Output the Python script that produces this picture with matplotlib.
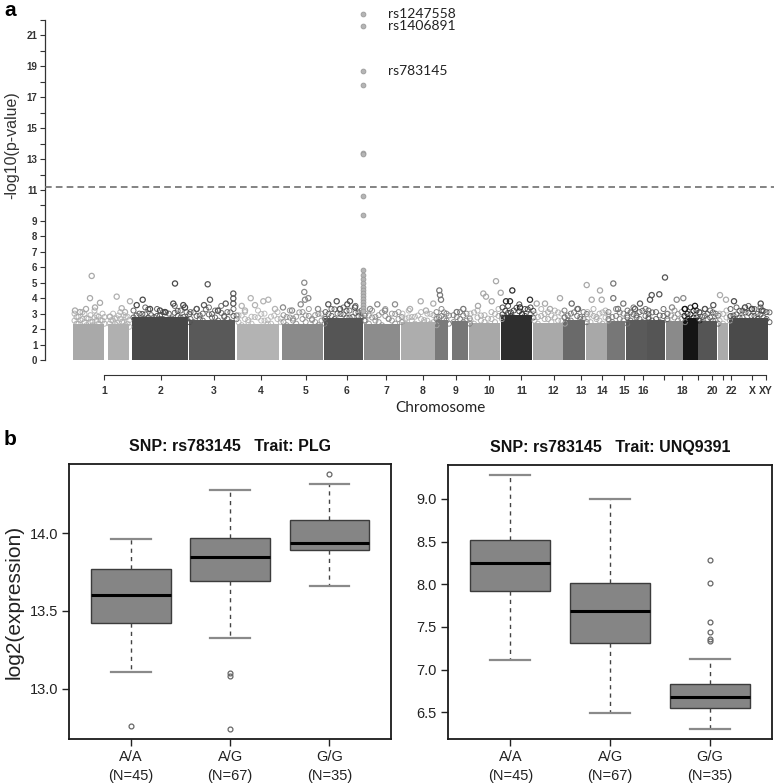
import numpy as np
import matplotlib
matplotlib.use("Agg")
import matplotlib.pyplot as plt

# ---------------- data: Manhattan plot ----------------
chrom_labels = ['1', '2', '3', '4', '5', '6', '7', '8', '9', '10', '11', '12', '13', '14',
                '15', '16', '', '18', '', '20', '', '22', 'X', 'XY']
chrom_ticks = [104.5, 161, 213.8, 260.6, 305.6, 347, 386, 422.7, 456, 489.3, 521.4, 553.6,
               581, 601.8, 623.8, 643, 663.8, 682.2, 698.2, 712, 723.4, 731.3, 752, 766]

block_start = [73, 108, 132, 189, 237, 282, 324, 364, 401, 435, 452, 469, 501, 533, 563, 586,
               607, 626, 647, 666, 683, 698, 718, 729]
block_end = [104, 129, 188, 235, 279, 323, 363, 400, 435, 448, 468, 500, 532, 563, 585, 607,
             625, 647, 665, 683, 698, 717, 728, 768]
block_top = [2.35, 2.3, 2.75, 2.6, 2.35, 2.35, 2.7, 2.35, 2.45, 2.6, 2.5, 2.4, 2.9, 2.4, 2.6,
             2.4, 2.5, 2.6, 2.6, 2.5, 2.7, 2.5, 2.4, 2.7]
# upper edge of the dense point cloud in each block
band_vals = [
    [3.0, 2.8, 3.1, 2.7, 2.9, 3.2, 2.8, 3.0],
    [2.8, 3.0, 2.7, 3.1, 2.9, 2.8],
    [3.2, 3.0, 3.4, 2.9, 3.3, 3.1, 3.0, 3.5, 3.2, 3.1],
    [3.1, 3.3, 3.0, 3.4, 3.2, 3.5, 3.1, 3.3],
    [2.9, 3.1, 2.8, 3.2, 3.0, 2.8, 3.1],
    [2.9, 3.2, 2.8, 3.1, 3.3, 2.9, 3.0],
    [3.1, 3.3, 3.0, 3.4, 3.2, 3.5, 3.2],
    [3.0, 3.2, 2.9, 3.3, 3.0, 3.1],
    [3.0, 3.2, 2.8, 3.1, 3.0, 2.9],
    [3.1, 3.3, 3.0],
    [2.9, 3.1, 3.0],
    [3.0, 3.2, 2.9, 3.1, 3.3],
    [3.4, 3.5, 3.2, 3.6, 3.3, 3.4],
    [3.0, 3.3, 3.1, 3.2, 3.0],
    [3.2, 3.0, 3.3, 3.1],
    [3.1, 3.3, 3.0, 3.2],
    [3.1, 3.3, 3.0],
    [3.2, 3.4, 3.1, 3.3],
    [3.2, 3.1, 3.3],
    [3.0, 3.2, 3.1],
    [3.3, 3.4, 3.2],
    [3.1, 3.3, 3.2, 3.0],
    [3.0, 3.2],
    [3.3, 3.4, 3.2, 3.5, 3.3, 3.4, 3.1],
]
outlier_x = [91.7, 90, 75, 80, 100, 95, 86,
             116.7, 121.7, 110, 130, 125,
             175, 136.7, 142.7, 173.3, 183.3, 160, 150, 165, 185,
             207.7, 204, 210, 233.3, 233.3, 225.7, 233.3, 196.7, 218,
             250.7, 263.3, 268.3, 241.7, 255, 245, 275,
             304.3, 304.3, 305, 300.7, 308.3, 283, 292, 318,
             336.7, 328.3, 347.3, 350, 340, 355,
             377.3, 395, 370, 385,
             420.7, 439.3, 440, 441, 433.3, 410, 426,
             456.7, 463.3,
             483.3, 486, 496, 500.7, 491.7, 478,
             512.3, 506, 510, 520, 530,
             536.7, 545, 560, 550,
             571.7, 578,
             586.7, 600, 591.7, 601.7,
             613.3, 613.3, 623.3, 618,
             640, 651.7, 659.3, 650, 635,
             665, 676.7, 683.3, 685, 672,
             720, 713.3, 726, 734, 760.7, 761.7, 745, 752, 705, 695]
outlier_y = [5.44, 4.0, 3.2, 3.1, 3.7, 3.4, 3.3,
             4.1, 3.35, 2.8, 3.8, 3.1,
             4.95, 3.55, 3.9, 3.65, 3.55, 3.2, 3.3, 3.1, 3.4,
             4.9, 3.55, 3.9, 4.3, 3.98, 3.65, 3.65, 3.3, 3.2,
             4.0, 3.8, 3.9, 3.5, 3.55, 3.2, 3.3,
             5.0, 4.4, 3.9, 3.6, 4.0, 3.4, 3.2, 3.3,
             3.8, 3.6, 3.6, 3.8, 3.3, 3.4,
             3.6, 3.6, 3.3, 3.2,
             3.8, 4.5, 4.2, 3.9, 3.65, 3.3, 3.2,
             3.1, 3.3,
             4.3, 4.1, 5.1, 4.35, 3.8, 3.5,
             4.5, 3.8, 3.8, 3.4, 3.9,
             3.65, 3.65, 4.0, 3.3,
             3.65, 3.3,
             4.85, 4.5, 3.9, 3.9,
             4.95, 4.0, 3.65, 3.3,
             3.65, 4.2, 4.25, 3.9, 3.3,
             5.34, 3.9, 4.0, 3.3, 3.4,
             4.2, 3.55, 3.9, 3.8, 3.65, 3.2, 3.4, 3.3, 3.3, 3.5]
peak_x = 363
peak_vals = [22.4, 21.6, 18.7, 17.8, 13.4, 13.3, 10.6, 9.4, 5.8, 5.5, 5.25, 5.0, 4.75,
             4.55, 4.35, 4.15, 3.95, 3.75, 3.55, 3.35, 3.15]
snp_names = ['rs1247558', 'rs1406891', 'rs783145']
snp_vals = [22.4, 21.6, 18.7]
threshold = 11.2
ytick_vals = list(range(0, 23))
ytick_labels = ['0', '1', '2', '3', '4', '5', '6', '7', '8', '9', '', '11', '', '13', '',
                '15', '', '17', '', '19', '', '21', '']

# ---------------- data: box plots ----------------
genotypes = ['A/A\n(N=45)', 'A/G\n(N=67)', 'G/G\n(N=35)']
plg_q1 = [13.425, 13.69, 13.895]
plg_med = [13.60, 13.85, 13.936]
plg_q3 = [13.768, 13.968, 14.086]
plg_lo = [13.11, 13.325, 13.663]
plg_hi = [13.966, 14.28, 14.32]
plg_fliers = [[12.76], [13.10, 13.08, 12.74], [14.38]]

unq_q1 = [7.925, 7.31, 6.554]
unq_med = [8.255, 7.685, 6.675]
unq_q3 = [8.52, 8.02, 6.827]
unq_lo = [7.11, 6.49, 6.31]
unq_hi = [9.28, 9.0, 7.13]
unq_fliers = [[], [], [8.28, 8.01, 7.56, 7.44, 7.355, 7.34]]

# ---------------- styles ----------------
block_colors = ['#a9a9a9', '#b0b0b0', '#484848', '#595959', '#b3b3b3', '#8a8a8a', '#555555',
                '#8c8c8c', '#adadad', '#7a7a7a', '#777777', '#a8a8a8', '#2e2e2e', '#a9a9a9',
                '#6a6a6a', '#a8a8a8', '#777777', '#5a5a5a', '#555555', '#8a8a8a', '#151515',
                '#555555', '#ababab', '#4a4a4a']

W, H = 774, 784
fig = plt.figure(figsize=(W / 100, H / 100), dpi=100)
plt.rcParams['font.family'] = ['Liberation Sans', 'DejaVu Sans']


def px_axes(x0, y0, x1, y1):
    return fig.add_axes([x0 / W, 1 - y1 / H, (x1 - x0) / W, (y1 - y0) / H])


# ---------------- Manhattan ----------------
ax = px_axes(45, 20, 774, 360)
ax.set_xlim(45, 774)
ax.set_ylim(0, 22)


def block_of(x):
    for i, (s, e) in enumerate(zip(block_start, block_end)):
        if s - 1 <= x <= e + 1:
            return i
    return 0


for i, (s, e) in enumerate(zip(block_start, block_end)):
    ax.bar(s, block_top[i], width=e - s, align='edge', color=block_colors[i],
           edgecolor='none', zorder=1)
    vals = band_vals[i]
    n = len(vals)
    xs = np.linspace(s + 1.5, e - 1.5, n)
    step = (e - s - 3) / max(n - 1, 1)
    kw = dict(s=13, facecolors='none', edgecolors=block_colors[i], linewidths=0.7, zorder=2,
              alpha=0.85)
    ax.scatter(xs, vals, **kw)
    ax.scatter(xs + step / 2, [v - 0.22 for v in vals[::-1]], **kw)
    ax.scatter(xs, [v - 0.45 for v in vals], **kw)
    ax.scatter(xs + step / 2, [v - 0.65 for v in vals], **kw)

oc = [block_colors[block_of(x)] for x in outlier_x]
ax.scatter(outlier_x, outlier_y, s=14, facecolors='none', edgecolors=oc, linewidths=0.9,
           zorder=3)
ax.scatter([peak_x] * len(peak_vals), peak_vals, s=12, facecolors='#b5b5b5',
           edgecolors='#9a9a9a', linewidths=0.6, zorder=4, clip_on=False)
ax.axhline(threshold, color='#6e6e6e', lw=1.2, dashes=(4, 2.5), zorder=5)

for name, v in zip(snp_names, snp_vals):
    ax.text(388, v, name, fontsize=10, family=['Lato', 'DejaVu Sans'], color='#222222',
            va='center', ha='left', clip_on=False)

for sp in ['top', 'right']:
    ax.spines[sp].set_visible(False)
ax.spines['left'].set_color('#333333')
ax.spines['left'].set_linewidth(0.9)
ax.spines['bottom'].set_position(('outward', 11))
ax.spines['bottom'].set_bounds(chrom_ticks[0], chrom_ticks[-1])
ax.spines['bottom'].set_color('#333333')
ax.set_yticks(ytick_vals)
ax.set_yticklabels(ytick_labels, fontsize=7, fontweight='bold', color='#333333')
ax.set_xticks(chrom_ticks)
ax.set_xticklabels(chrom_labels, fontsize=7.5, fontweight='bold', color='#333333')
ax.tick_params(axis='both', length=3.5, width=0.8, color='#333333', pad=2)
ax.tick_params(axis='x', pad=4)
fig.text(12 / W, 1 - 145 / H, '-log10(p-value)', rotation=90, fontsize=11.5, color='#333333',
         ha='center', va='center')
fig.text(440 / W, 1 - 408 / H, 'Chromosome', fontsize=11, family=['Lato', 'DejaVu Sans'],
         color='#222222', ha='center', va='center')
fig.text(4 / W, 1 - 10 / H, 'a', fontsize=15, fontweight='bold', ha='left', va='center')
fig.text(4 / W, 1 - 440 / H, 'b', fontsize=15, fontweight='bold', ha='left', va='center')


# ---------------- box plots ----------------
def boxpanel(axb, q1, med, q3, lo, hi, fl, title, ylim, yticks):
    stats = []
    for i in range(3):
        stats.append(dict(q1=q1[i], med=med[i], q3=q3[i], whislo=lo[i], whishi=hi[i],
                          fliers=fl[i]))
    axb.bxp(stats, positions=[1, 2, 3], widths=0.8, capwidths=0.4, patch_artist=True,
            boxprops=dict(facecolor='#858585', edgecolor='#3c3c3c', linewidth=1.0),
            medianprops=dict(color='black', linewidth=2.2),
            whiskerprops=dict(color='#444444', linewidth=1.0, linestyle=(0, (3, 3))),
            capprops=dict(color='#8a8a8a', linewidth=1.6),
            flierprops=dict(marker='o', markersize=3.5, markerfacecolor='none',
                            markeredgecolor='#666666', markeredgewidth=0.9))
    axb.set_xlim(0.376, 3.62)
    axb.set_ylim(*ylim)
    axb.set_yticks(yticks)
    axb.set_yticklabels(['%.1f' % t for t in yticks], fontsize=10.5, color='#222222')
    axb.set_xticks([1, 2, 3])
    axb.set_xticklabels(genotypes, fontsize=10.5, color='#222222', linespacing=1.45)
    axb.tick_params(axis='both', length=5, width=1.0, color='#222222', pad=3)
    for sp in axb.spines.values():
        sp.set_linewidth(1.3)
        sp.set_color('#1a1a1a')
    axb.set_title(title, fontsize=11.5, fontweight='bold', pad=9, color='#111111')


ax1 = px_axes(69, 464, 391, 739)
boxpanel(ax1, plg_q1, plg_med, plg_q3, plg_lo, plg_hi, plg_fliers,
         'SNP: rs783145   Trait: PLG', (12.676, 14.446), [13.0, 13.5, 14.0])
ax1.set_ylabel('log2(expression)', fontsize=15, color='#222222', labelpad=4)

ax2 = px_axes(448, 465, 772, 739)
boxpanel(ax2, unq_q1, unq_med, unq_q3, unq_lo, unq_hi, unq_fliers,
         'SNP: rs783145   Trait: UNQ9391', (6.187, 9.398), [6.5, 7.0, 7.5, 8.0, 8.5, 9.0])

fig.savefig('out.png', dpi=100)
